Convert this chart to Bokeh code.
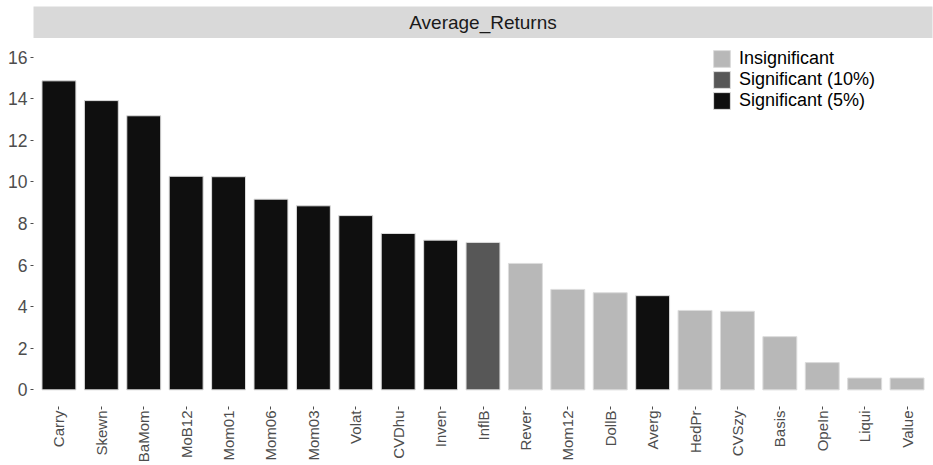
import math
from bokeh.plotting import figure
from bokeh.models import ColumnDataSource, Range1d, FactorRange, Label, Legend, LegendItem
from bokeh.layouts import column
from bokeh.embed import file_html
from bokeh.resources import INLINE

# Average returns per strategy, sorted as in the panel
strategies = ["Carry", "Skewn", "BaMom", "MoB12", "Mom01", "Mom06", "Mom03", "Volat",
              "CVDhu", "Inven", "InflB", "Rever", "Mom12", "DollB", "Averg", "HedPr",
              "CVSzy", "Basis", "OpeIn", "Liqui", "Value"]
avg_returns = [14.86, 13.91, 13.18, 10.27, 10.25, 9.17, 8.85, 8.38,
               7.52, 7.20, 7.09, 6.08, 4.83, 4.67, 4.53, 3.82,
               3.78, 2.56, 1.31, 0.57, 0.57]
significance = ["Significant (5%)"] * 10 + ["Significant (10%)"] + ["Insignificant"] * 3 + \
               ["Significant (5%)"] + ["Insignificant"] * 6

groups = ["Insignificant", "Significant (10%)", "Significant (5%)"]
group_colors = ["#b8b8b8", "#575757", "#0f0f0f"]
y_ticks = [0, 2, 4, 6, 8, 10, 12, 14, 16]

FONT = "Liberation Sans"

# ---- facet strip ----
strip = figure(width=933, height=38, output_backend="svg", toolbar_location=None,
               x_range=Range1d(0, 1), y_range=Range1d(0, 1),
               x_axis_type=None, y_axis_type=None,
               min_border_left=33, min_border_right=0, min_border_top=6, min_border_bottom=0)
strip.outline_line_color = None
strip.background_fill_color = "#d9d9d9"
strip.border_fill_color = "white"
strip.xgrid.visible = False
strip.ygrid.visible = False
strip.add_layout(Label(x=0.5, y=0.5, text="Average_Returns", text_align="center",
                       text_baseline="middle", text_font=FONT, text_font_size="19px",
                       text_color="#1a1a1a"))

# ---- bar panel ----
p = figure(width=933, height=427, output_backend="svg", toolbar_location=None,
           x_range=FactorRange(*strategies, range_padding=0.1, range_padding_units="absolute"),
           y_range=Range1d(-0.8, 16.8),
           min_border_left=33, min_border_right=1, min_border_top=2, min_border_bottom=58)
p.outline_line_color = None
p.background_fill_color = "white"
p.border_fill_color = "white"
p.xgrid.visible = False
p.ygrid.visible = False

renderers = []
for g, c in zip(groups, group_colors):
    idx = [i for i, s in enumerate(significance) if s == g]
    src = ColumnDataSource(dict(x=[strategies[i] for i in idx], top=[avg_returns[i] for i in idx]))
    r = p.vbar(x="x", top="top", bottom=0, width=0.8, source=src,
               fill_color=c, line_color="#dcdcdc", line_width=1)
    renderers.append(r)

# legend keys: glyph box of 21px (drawn square is inset ~10%)
legend = Legend(items=[LegendItem(label=g, renderers=[r]) for g, r in zip(groups, renderers)],
                location=(678, 295), orientation="vertical",
                glyph_width=21, glyph_height=21, label_height=19, spacing=-3,
                label_standoff=7, padding=0, margin=0,
                label_text_font=FONT, label_text_font_size="18px", label_text_color="#000000",
                border_line_color=None, background_fill_alpha=0)
p.add_layout(legend)

for ax in (p.xaxis[0], p.yaxis[0]):
    ax.axis_line_color = None
    ax.major_tick_in = 0
    ax.major_tick_out = 3
    ax.major_tick_line_color = "#4d4d4d"
    ax.minor_tick_line_color = None
    ax.major_label_text_font = FONT
    ax.major_label_text_color = "#4d4d4d"

p.yaxis.ticker = y_ticks
p.yaxis.major_label_text_font_size = "17.5px"
p.yaxis.major_label_standoff = 3
p.xaxis.major_label_text_font_size = "15px"
p.xaxis.major_label_orientation = math.pi / 2
p.xaxis.major_label_standoff = 1

layout = column(strip, p, spacing=0)
open("out.html", "w").write(file_html(layout, INLINE))
